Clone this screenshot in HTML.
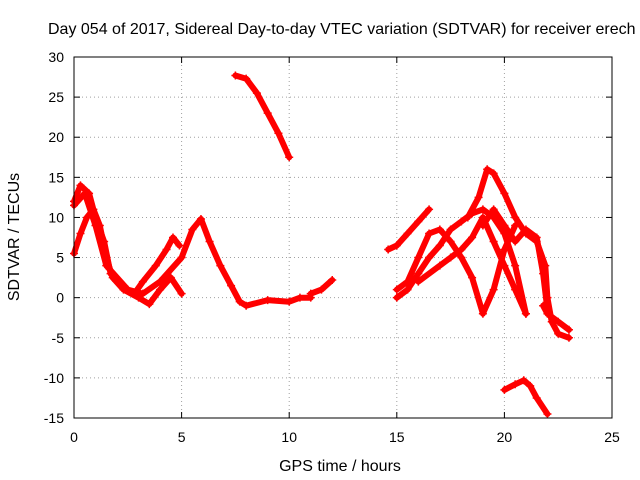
<!DOCTYPE html>
<html><head><meta charset="utf-8"><style>
html,body{margin:0;padding:0;background:#fff;overflow:hidden;}
svg{display:block;font-family:"Liberation Sans",sans-serif;}
</style></head><body>
<svg id="chart" width="640" height="480" viewBox="0 0 640 480">
<text x="48" y="34" font-size="16" fill="#000">Day 054 of 2017, Sidereal Day-to-day VTEC variation (SDTVAR) for receiver erech</text>
<g id="grid"></g>
<g id="ticks"></g>
<g id="series"></g>
<rect x="74" y="57" width="538" height="361" fill="none" stroke="#000" stroke-width="1"/>
<text x="340" y="471" font-size="16" text-anchor="middle">GPS time / hours</text>
<text transform="translate(19,237) rotate(-90)" font-size="16" text-anchor="middle">SDTVAR / TECUs</text>
</svg>
<script>
const xTicks=[0,5,10,15,20,25];
const yTicks=[-15,-10,-5,0,5,10,15,20,25,30];
const s1=[[0,5.5],[0.3,8],[0.6,10],[0.9,11],[1.2,9],[1.5,5],[1.8,2.5],[2.3,1],[3,0],[3.5,-0.8],[4,1],[4.5,2.5],[5,0.5]];
const s2=[[0,12],[0.3,14],[0.7,13],[1,10],[1.4,7],[1.7,3],[2.2,1.5],[2.8,0.5],[3.2,2],[3.8,4],[4.3,6],[4.6,7.5],[4.9,6.5]];
const s3=[[0,11.5],[0.5,13],[1,9],[1.5,4],[2.5,1],[3.2,0.5],[4,2],[5,5],[5.5,8.5],[5.9,9.8],[6.3,7],[6.8,4],[7.3,1.5],[7.7,-0.5],[8,-1],[9,-0.3],[10,-0.5],[10.5,0],[11,0]];
const s4=[[11,0.5],[11.5,1],[12,2.2]];
const s5=[[7.5,27.7],[8,27.3],[8.5,25.5],[9,23],[9.5,20.5],[10,17.5]];
const r1=[[14.6,6],[15,6.5],[15.5,8],[16,9.5],[16.5,11]];
const r2=[[15,1],[15.5,2],[16,5],[16.5,8],[17,8.5],[17.5,7],[18,5],[18.5,2.5],[19,-2],[19.5,1],[20,6],[20.5,9]];
const r3=[[15,0],[15.5,1],[16,3],[16.5,5],[17,6.5],[17.5,8.5],[18,9.5],[18.5,10.5],[19,11],[19.5,10],[20,8],[20.5,4],[21,-2]];
const r4=[[16,2],[17,4],[17.5,5],[18,6],[18.5,7.5],[19,10],[19.5,7],[20,4],[20.5,1],[21,-2]];
const r5=[[18.3,10],[18.8,12.5],[19.2,16],[19.5,15.5],[20,13],[20.5,10],[21,8],[21.5,7],[21.9,4],[22,0],[22.2,-3],[22.5,-4.5],[23,-5]];
const r6=[[19,9],[19.5,11],[20,9],[20.5,7],[21,8.5],[21.5,7.5],[21.8,3],[22,-1.5]];
const r7=[[21.8,-1],[22,-2],[22.5,-3],[23,-4]];
const r8=[[20,-11.5],[20.5,-10.8],[20.9,-10.3],[21.2,-11],[21.5,-12.5],[22,-14.5]];
const allSeries=[s1,s2,s3,s4,s5,r1,r2,r3,r4,r5,r6,r7,r8];
const X0=74,X1=612,Y0=418,Y1=57;
function sx(v){return X0+(v-0)/(25-0)*(X1-X0);}
function sy(v){return Y0-(v+15)/(45)*(Y0-Y1);}
const NS="http://www.w3.org/2000/svg";
const grid=document.getElementById('grid'),ticks=document.getElementById('ticks'),ser=document.getElementById('series');
function mk(t,a,p){const e=document.createElementNS(NS,t);for(const k in a)e.setAttribute(k,a[k]);p.appendChild(e);return e;}
xTicks.forEach(v=>{
  const x=sx(v);
  if(v>0&&v<25){const g=mk('line',{x1:x,x2:x,y1:Y1,y2:Y0,stroke:'#a0a0a0','stroke-dasharray':'1,3'},grid);
  
  }
  mk('line',{x1:x,x2:x,y1:Y0,y2:Y0-6,stroke:'#000'},ticks);
  mk('line',{x1:x,x2:x,y1:Y1,y2:Y1+6,stroke:'#000'},ticks);
  const t=mk('text',{x:x,y:Y0+24,'font-size':14,'text-anchor':'middle'},ticks);t.textContent=v;
  
  
});
yTicks.forEach(v=>{
  const y=sy(v);
  if(v>-15&&v<30){const g=mk('line',{x1:X0,x2:X1,y1:y,y2:y,stroke:'#a0a0a0','stroke-dasharray':'1,3'},grid);
  
  }
  mk('line',{x1:X0,x2:X0+6,y1:y,y2:y,stroke:'#000'},ticks);
  mk('line',{x1:X1,x2:X1-6,y1:y,y2:y,stroke:'#000'},ticks);
  const t=mk('text',{x:X0-10,y:y+5,'font-size':14,'text-anchor':'end'},ticks);t.textContent=v;
  
  
});
allSeries.forEach((s,i)=>{
  const pts=s.map(p=>sx(p[0]).toFixed(1)+','+sy(p[1]).toFixed(1)).join(' ');
  const pl=mk('polyline',{points:pts,fill:'none',stroke:'#ff0000','stroke-width':6,'stroke-linejoin':'round','stroke-linecap':'round'},ser);
  
  
  s.forEach(p=>{
    const x=sx(p[0]),y=sy(p[1]);
    mk('path',{d:`M${x-4},${y}H${x+4}M${x},${y-4}V${y+4}`,stroke:'#ff0000','stroke-width':1.5},ser);
  });
});
</script>
</body></html>
